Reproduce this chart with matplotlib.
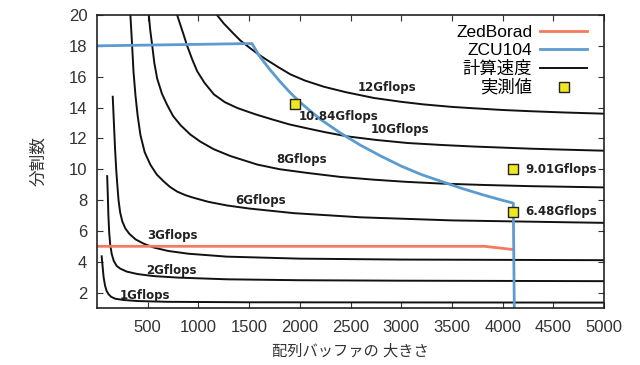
import matplotlib
matplotlib.use("Agg")
import matplotlib.pyplot as plt
from matplotlib.lines import Line2D

plt.rcParams["font.family"] = ["Liberation Sans", "Noto Sans CJK JP"]

# iso performance curves: buffer size vs divisions
g1_x = [46, 55, 65, 79, 95, 115, 140, 180, 260, 400, 700, 1500, 3000, 5000]
g1_y = [4.35, 3.7, 3.0, 2.45, 2.1, 1.88, 1.72, 1.6, 1.52, 1.45, 1.40, 1.37, 1.36, 1.35]
g2_x = [100, 106, 112, 120, 130, 145, 165, 195, 230, 293, 400, 556, 800, 1281, 2000, 3000, 5000]
g2_y = [9.55, 8.4, 7.0, 5.9, 5.1, 4.5, 4.05, 3.72, 3.55, 3.36, 3.2, 3.07, 2.97, 2.86, 2.8, 2.77, 2.74]
g3_x = [155, 165, 178, 190, 200, 212, 228, 250, 280, 320, 380, 457, 560, 700, 900, 1281, 2000, 3000, 5000]
g3_y = [14.7, 13.2, 11.3, 9.9, 9.0, 8.0, 7.2, 6.6, 6.15, 5.8, 5.45, 5.18, 4.92, 4.7, 4.52, 4.33, 4.2, 4.14, 4.10]
g6_x = [329, 336, 346, 360, 379, 400, 428, 470, 527, 590, 659, 720, 790, 870, 951, 1100, 1281, 1500, 1940, 2600, 3500, 5000]
g6_y = [20, 19.2, 18.04, 16.3, 14.8, 13.5, 12.22, 11.1, 10.28, 9.65, 9.2, 8.85, 8.55, 8.32, 8.15, 7.88, 7.65, 7.45, 7.15, 6.88, 6.68, 6.52]
g8_x = [511, 525, 544, 565, 593, 640, 692, 750, 823, 920, 1021, 1150, 1317, 1581, 1800, 2072, 2400, 2730, 3050, 3389, 3800, 4278, 5000]
g8_y = [20, 19.0, 18.04, 16.9, 15.88, 14.9, 14.16, 13.45, 12.86, 12.25, 11.78, 11.3, 10.85, 10.3, 10.0, 9.76, 9.5, 9.32, 9.18, 9.07, 8.98, 8.9, 8.82]
g10_x = [790, 820, 850, 889, 940, 988, 1060, 1153, 1260, 1383, 1500, 1581, 1742, 1900, 2072, 2250, 2467, 2750, 3060, 3400, 3718, 4000, 4278, 4600, 5000]
g10_y = [20, 19.4, 18.8, 18.0, 17.1, 16.35, 15.6, 14.85, 14.35, 13.97, 13.7, 13.52, 13.2, 12.9, 12.65, 12.4, 12.13, 11.9, 11.7, 11.57, 11.47, 11.4, 11.33, 11.27, 11.2]
g12_x = [1183, 1250, 1330, 1413, 1500, 1581, 1660, 1780, 1907, 2050, 2236, 2450, 2730, 3000, 3224, 3500, 3718, 4000, 4278, 4600, 5000]
g12_y = [20, 19.45, 18.9, 18.35, 17.9, 17.5, 17.15, 16.65, 16.15, 15.75, 15.35, 15.0, 14.62, 14.37, 14.2, 14.04, 13.95, 13.84, 13.76, 13.68, 13.6]

curves = [(g1_x, g1_y), (g2_x, g2_y), (g3_x, g3_y), (g6_x, g6_y),
          (g8_x, g8_y), (g10_x, g10_y), (g12_x, g12_y)]

zed_x = [0, 3820, 4090]
zed_y = [5.0, 5.0, 4.8]

zcu_x = [0, 1528, 1600, 1700, 1800, 1900, 2000, 2200, 2400, 2600, 2800, 3000,
         3200, 3400, 3600, 3800, 4000, 4105, 4115]
zcu_y = [18, 18.15, 17.35, 16.5, 15.72, 15.0, 14.35, 13.25, 12.35, 11.55, 10.85, 10.2,
         9.65, 9.2, 8.75, 8.35, 7.98, 7.8, 1.0]

meas_x = [1950, 4100, 4100]
meas_y = [14.2, 10.0, 7.25]
meas_labels = ["10.84Gflops", "9.01Gflops", "6.48Gflops"]

fig = plt.figure(figsize=(6.4, 3.65), dpi=100)
ax = fig.add_axes([0.1516, 0.1562, 0.7922, 0.8027])

for cx, cy in curves:
    ax.plot(cx, cy, color="#111111", lw=1.4)
ax.plot(zed_x, zed_y, color="#f27a5e", lw=2.0)
ax.plot(zcu_x, zcu_y, color="#5b9bcf", lw=2.0)
ax.scatter(meas_x, meas_y, marker="s", s=45, facecolor="#eee820",
           edgecolor="#222222", linewidth=1.0, zorder=5)

lab = dict(fontsize=8.5, fontweight="bold", color="#222222", family="DejaVu Sans",
           va="center", ha="left")
ax.text(227, 1.82, "1Gflops", **lab)
ax.text(484, 3.44, "2Gflops", **lab)
ax.text(494, 5.70, "3Gflops", **lab)
ax.text(1363, 7.97, "6Gflops", **lab)
ax.text(1769, 10.62, "8Gflops", **lab)
ax.text(2697, 12.56, "10Gflops", **lab)
ax.text(2569, 15.28, "12Gflops", **lab)
ax.text(meas_x[0] + 40, meas_y[0] - 0.75, meas_labels[0], **lab)
ax.text(meas_x[1] + 120, meas_y[1], meas_labels[1], **lab)
ax.text(meas_x[2] + 120, meas_y[2], meas_labels[2], **lab)

ax.set_xlim(0, 5000)
ax.set_ylim(1, 20)
ax.set_xticks(range(500, 5001, 500))
ax.set_yticks(range(2, 21, 2))
ax.tick_params(direction="in", top=True, right=True, length=4, labelsize=12,
               colors="#333333")
ax.tick_params(axis="x", pad=9)
ax.tick_params(axis="y", pad=7)
for s in ax.spines.values():
    s.set_linewidth(1.2)
    s.set_color("#222222")

ax.set_xlabel("配列バッファの 大きさ", fontsize=11, color="#333333", labelpad=6)
ax.set_ylabel("分割数", fontsize=12, color="#333333", labelpad=16)

handles = [Line2D([], [], color="#f27a5e", lw=2.0),
           Line2D([], [], color="#5b9bcf", lw=2.0),
           Line2D([], [], color="#111111", lw=1.4),
           Line2D([], [], ls="none", marker="s", markersize=7,
                  markerfacecolor="#eee820", markeredgecolor="#222222")]
ax.legend(handles, ["ZedBorad", "ZCU104", "計算速度", "実測値"], loc="upper right",
          bbox_to_anchor=(0.9665, 0.965), markerfirst=False, frameon=False,
          fontsize=12.5, handlelength=2.7, handletextpad=0.45, labelspacing=0.14,
          borderpad=0, borderaxespad=0)

fig.savefig("out.png", dpi=100)
